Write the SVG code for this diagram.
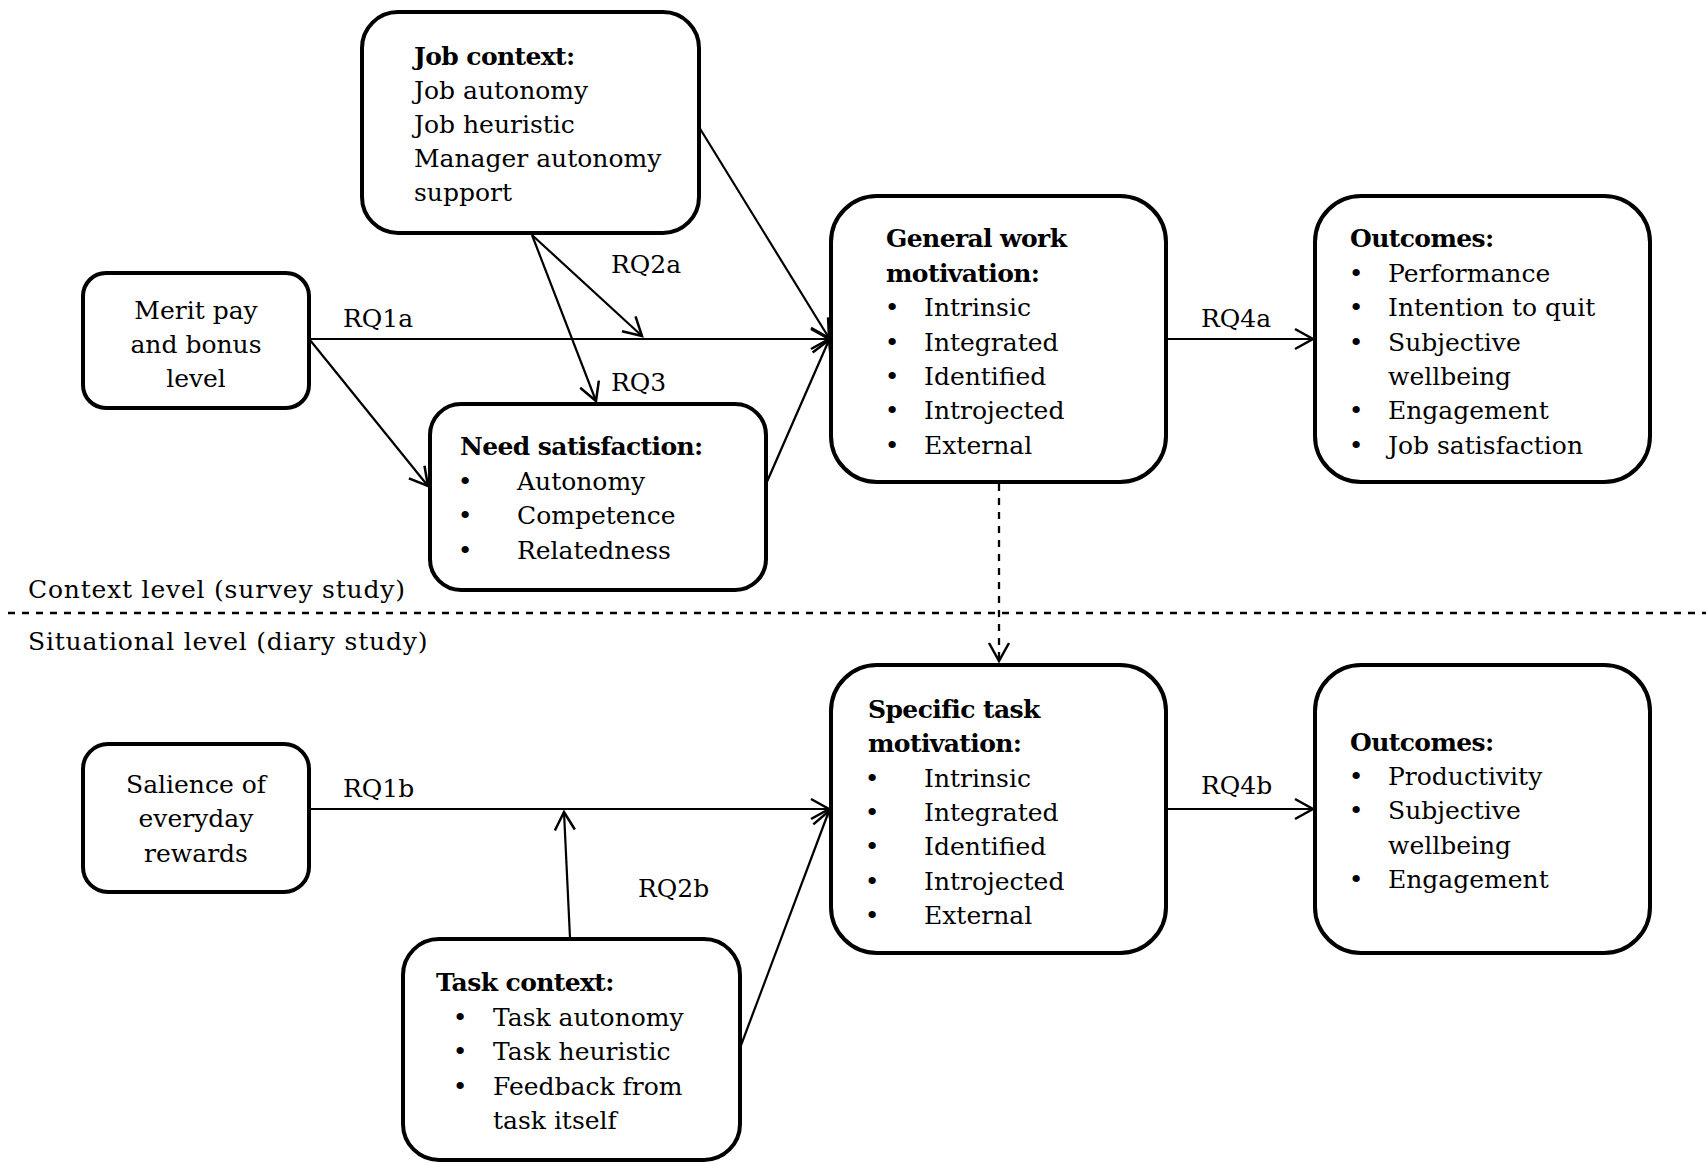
<svg xmlns="http://www.w3.org/2000/svg" width="1706" height="1164" viewBox="0 0 1706 1164">
  <defs>
    <marker id="arrow" viewBox="0 0 22 24" refX="20" refY="12" markerWidth="22" markerHeight="24" markerUnits="userSpaceOnUse" orient="auto" overflow="visible">
      <path d="M2,2 L20,12 L2,22" fill="none" stroke="#000" stroke-width="2.5" stroke-linejoin="miter"/>
    </marker>
  </defs>
  <style>
    text { font-family: "DejaVu Serif", "Liberation Serif", serif; font-size: 25px; fill: #000; }
    .b { font-weight: bold; letter-spacing: -0.6px; }
    .c { text-anchor: middle; }
    .lvl { letter-spacing: 0.8px; }
    .box { fill: #fff; stroke: #000; stroke-width: 4; }
    .con { fill: none; stroke: #000; stroke-width: 2.2; marker-end: url(#arrow); }
    .dash { fill: none; stroke: #000; stroke-width: 2.3; stroke-dasharray: 7 7; }
  </style>
  <rect width="1706" height="1164" fill="#fff"/>

  <!-- level divider and labels -->
  <g id="levels">
    <line class="dash" x1="8" y1="613" x2="1706" y2="613"/>
    <text class="lvl" x="28" y="598">Context level (survey study)</text>
    <text class="lvl" x="28" y="650">Situational level (diary study)</text>
  </g>

  <!-- connectors -->
  <g id="connectors">
    <line class="con" x1="309" y1="339" x2="829" y2="339"/>
    <line class="con" x1="532" y1="235" x2="642" y2="336"/>
    <line class="con" x1="532" y1="235" x2="596" y2="401"/>
    <line class="con" x1="699" y1="127" x2="829" y2="338"/>
    <line class="con" x1="310" y1="340" x2="428" y2="486"/>
    <line class="con" x1="766" y1="484" x2="829" y2="340"/>
    <line class="con" x1="1167" y1="339" x2="1313" y2="339"/>
    <line class="dash" x1="999" y1="484" x2="999" y2="661" marker-end="url(#arrow)"/>
    <line class="con" x1="309" y1="809" x2="829" y2="809"/>
    <line class="con" x1="570" y1="938" x2="564" y2="812"/>
    <line class="con" x1="740" y1="1048" x2="829" y2="811"/>
    <line class="con" x1="1167" y1="809" x2="1313" y2="809"/>
    <text x="343" y="327">RQ1a</text>
    <text x="611" y="273">RQ2a</text>
    <text x="611" y="391">RQ3</text>
    <text x="1201" y="327">RQ4a</text>
    <text x="343" y="797">RQ1b</text>
    <text x="638" y="897">RQ2b</text>
    <text x="1201" y="794">RQ4b</text>
  </g>

  <g id="job-context">
    <rect class="box" x="362" y="12" width="337" height="221" rx="36" ry="36"/>
    <text class="b" x="414" y="65">Job context:</text>
    <text x="414" y="99">Job autonomy</text>
    <text x="414" y="133">Job heuristic</text>
    <text x="414" y="167">Manager autonomy</text>
    <text x="414" y="201">support</text>
  </g>

  <g id="merit-pay">
    <rect class="box" x="83" y="273" width="226" height="135" rx="23" ry="23"/>
    <text class="c" x="196" y="319">Merit pay</text>
    <text class="c" x="196" y="353">and bonus</text>
    <text class="c" x="196" y="387">level</text>
  </g>

  <g id="need-satisfaction">
    <rect class="box" x="430" y="404" width="336" height="186" rx="31" ry="31"/>
    <text class="b" x="460" y="455">Need satisfaction:</text>
    <text class="c" x="465" y="489.5">•</text>
    <text x="517" y="489.5">Autonomy</text>
    <text class="c" x="465" y="524">•</text>
    <text x="517" y="524">Competence</text>
    <text class="c" x="465" y="558.5">•</text>
    <text x="517" y="558.5">Relatedness</text>
  </g>

  <g id="general-motivation">
    <rect class="box" x="831" y="196" width="335" height="286" rx="46" ry="46"/>
    <text class="b" x="886" y="247">General work</text>
    <text class="b" x="886" y="281.5">motivation:</text>
    <text class="c" x="892" y="316">•</text>
    <text x="924" y="316">Intrinsic</text>
    <text class="c" x="892" y="350.5">•</text>
    <text x="924" y="350.5">Integrated</text>
    <text class="c" x="892" y="385">•</text>
    <text x="924" y="385">Identified</text>
    <text class="c" x="892" y="419">•</text>
    <text x="924" y="419">Introjected</text>
    <text class="c" x="892" y="453.5">•</text>
    <text x="924" y="453.5">External</text>
  </g>

  <g id="outcomes-context">
    <rect class="box" x="1315" y="196" width="335" height="286" rx="46" ry="46"/>
    <text class="b" x="1350" y="247">Outcomes:</text>
    <text class="c" x="1356" y="281.5">•</text>
    <text x="1388" y="281.5">Performance</text>
    <text class="c" x="1356" y="316">•</text>
    <text x="1388" y="316">Intention to quit</text>
    <text class="c" x="1356" y="350.5">•</text>
    <text x="1388" y="350.5">Subjective</text>
    <text x="1388" y="385">wellbeing</text>
    <text class="c" x="1356" y="419">•</text>
    <text x="1388" y="419">Engagement</text>
    <text class="c" x="1356" y="453.5">•</text>
    <text x="1388" y="453.5">Job satisfaction</text>
  </g>

  <g id="salience-rewards">
    <rect class="box" x="83" y="744" width="226" height="148" rx="25" ry="25"/>
    <text class="c" x="196" y="793">Salience of</text>
    <text class="c" x="196" y="827">everyday</text>
    <text class="c" x="196" y="862">rewards</text>
  </g>

  <g id="task-context">
    <rect class="box" x="403" y="939" width="337" height="221" rx="36" ry="36"/>
    <text class="b" x="436" y="991">Task context:</text>
    <text class="c" x="460" y="1026">•</text>
    <text x="493" y="1026">Task autonomy</text>
    <text class="c" x="460" y="1060">•</text>
    <text x="493" y="1060">Task heuristic</text>
    <text class="c" x="460" y="1094.5">•</text>
    <text x="493" y="1094.5">Feedback from</text>
    <text x="493" y="1129">task itself</text>
  </g>

  <g id="specific-motivation">
    <rect class="box" x="831" y="665" width="335" height="288" rx="46" ry="46"/>
    <text class="b" x="868" y="718">Specific task</text>
    <text class="b" x="868" y="752">motivation:</text>
    <text class="c" x="872" y="786.5">•</text>
    <text x="924" y="786.5">Intrinsic</text>
    <text class="c" x="872" y="821">•</text>
    <text x="924" y="821">Integrated</text>
    <text class="c" x="872" y="855">•</text>
    <text x="924" y="855">Identified</text>
    <text class="c" x="872" y="889.5">•</text>
    <text x="924" y="889.5">Introjected</text>
    <text class="c" x="872" y="924">•</text>
    <text x="924" y="924">External</text>
  </g>

  <g id="outcomes-situational">
    <rect class="box" x="1315" y="665" width="335" height="288" rx="46" ry="46"/>
    <text class="b" x="1350" y="750.5">Outcomes:</text>
    <text class="c" x="1356" y="785">•</text>
    <text x="1388" y="785">Productivity</text>
    <text class="c" x="1356" y="819">•</text>
    <text x="1388" y="819">Subjective</text>
    <text x="1388" y="853.5">wellbeing</text>
    <text class="c" x="1356" y="888">•</text>
    <text x="1388" y="888">Engagement</text>
  </g>
</svg>
